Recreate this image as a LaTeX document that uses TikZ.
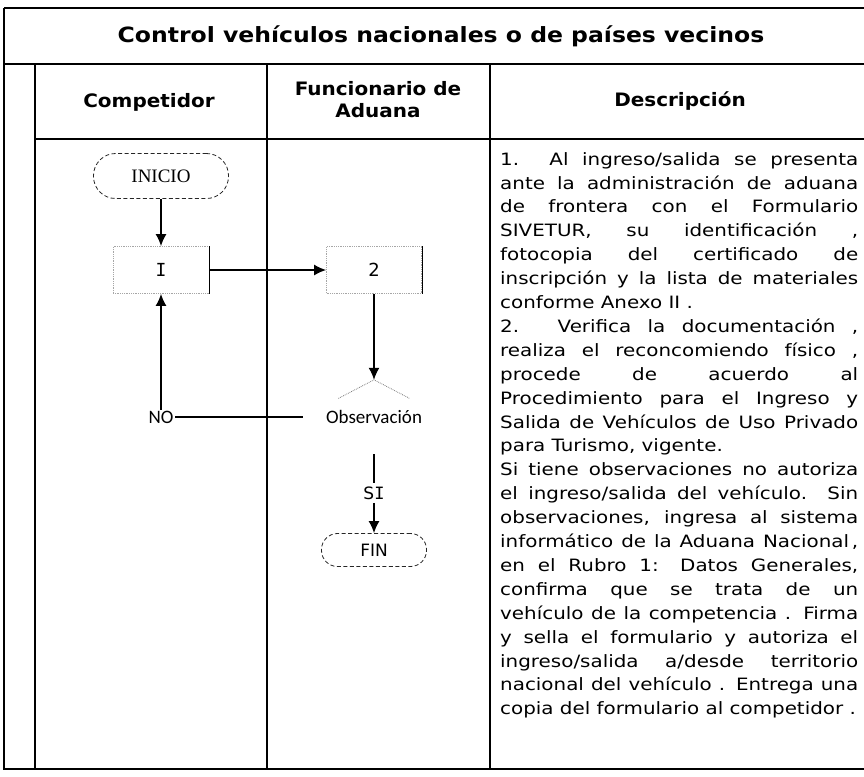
\documentclass[tikz,border=0pt]{standalone}
\usepackage{fontspec}
\setmainfont{DejaVu Sans}
\newfontfamily\descfont[FakeStretch=1.17]{DejaVu Sans}
\newfontfamily\headfont[FakeStretch=1.08]{DejaVu Sans}
\newfontfamily\titlefont[FakeStretch=1.12]{DejaVu Sans}
\newfontfamily\serifface{Liberation Serif}
\newfontfamily\narrowface{Carlito}
\newfontfamily\monoface{DejaVu Sans Mono}
\setlength{\parindent}{0pt}
\tolerance=10000
\hyphenpenalty=10000
\hbadness=10000
\usetikzlibrary{arrows.meta,shapes.geometric,calc}

\begin{document}
\begin{tikzpicture}[x=1pt,y=-1pt,>={Latex[length=12pt,width=11pt]},
  rule/.style={line width=1.6pt},
  flow/.style={line width=1.5pt},
  headcell/.style={font=\headfont\bfseries\fontsize{18.5}{22}\selectfont,align=center},
  stepbox/.style={draw=gray!70,densely dotted,line width=0.8pt,minimum height=47pt,inner sep=0pt,
    font=\fontsize{18}{20}\selectfont},
  terminal/.style={draw=black!85,dash pattern=on 4pt off 2.5pt,line width=0.8pt,inner sep=0pt}]
  \useasboundingbox (0,0) rectangle (864,776);
  \draw[rule] (4,8) -- (864,8);
  \draw[rule] (4,8) -- (4,769) -- (864,769);
  \draw[rule] (4,64) -- (864,64);
  \draw[rule] (35,64) -- (35,769);
  \draw[rule] (35,139) -- (864,139);
  \draw[rule] (267,64) -- (267,769);
  \draw[rule] (490,64) -- (490,769);

  \node[font=\titlefont\bfseries\fontsize{21}{24}\selectfont] (titulo) at (441,36)
    {Control vehículos nacionales o de países vecinos};
  \node[headcell] (competidor) at (149,102) {Competidor};
  \node[headcell] (funcionario) at (378,100) {Funcionario de\\Aduana};
  \node[headcell] (descripcion) at (680,101) {Descripción};

  \node[terminal,minimum width=135pt,minimum height=45pt,rounded corners=22pt,
    font=\serifface\fontsize{19}{20}\selectfont] (inicio) at (161,176) {INICIO};
  \node[stepbox,minimum width=96pt,font=\monoface\fontsize{18}{20}\selectfont] (uno) at (161,270) {I};
  \node[stepbox,minimum width=95pt] (dos) at (374,270) {2};
  \node[diamond,aspect=1.9,minimum width=142pt,minimum height=74pt,inner sep=0pt,
    font=\narrowface\fontsize{19}{20}\selectfont] (obs) at (374,417) {Observación};
  \node[font=\narrowface\fontsize{19}{20}\selectfont,inner sep=1pt] (no) at (161,417) {NO};
  \node[font=\fontsize{17}{20}\selectfont] (si) at (374,493) {S{\monoface I}};
  \node[terminal,minimum width=105pt,minimum height=33pt,rounded corners=16pt,
    font=\fontsize{17}{20}\selectfont] (fin) at (374,550) {FIN};

  \draw[densely dotted,gray,line width=0.8pt] ($(obs.north)!0.5!(obs.west)$) -- (obs.north)
    -- ($(obs.north)!0.5!(obs.east)$);
  \draw[line width=0.8pt] (uno.north east) -- (uno.south east);
  \draw[line width=0.8pt] (dos.north east) -- (dos.south east);

  \draw[flow,->] (inicio) -- (uno);
  \draw[flow,->] (uno) -- (dos);
  \draw[flow,->] (dos) -- (obs);
  \draw[flow] (obs) -- (no);
  \draw[flow,->] (no) -- (uno);
  \draw[flow] (obs) -- (si);
  \draw[flow,->] (si) -- (fin);

  \node[anchor=north west,inner sep=0pt,text width=358pt,align=justify,
    font=\descfont\fontsize{17}{23.9}\selectfont]
    (texto) at (500,152) {1. Al ingreso/salida se presenta\linebreak
    ante la administración de aduana\linebreak
    de frontera con el Formulario\linebreak
    SIVETUR, su identificación ,\linebreak
    fotocopia del certificado de\linebreak
    inscripción y la lista de materiales\linebreak
    conforme Anexo II .\par
    2. Verifica la documentación ,\linebreak
    realiza el reconcomiendo físico ,\linebreak
    procede de acuerdo al\linebreak
    Procedimiento para el Ingreso y\linebreak
    Salida de Vehículos de Uso Privado\linebreak
    para Turismo, vigente.\par
    Si tiene observaciones no autoriza\linebreak
    el ingreso/salida del vehículo. Sin\linebreak
    observaciones, ingresa al sistema\linebreak
    informático de la Aduana Nacional\,,\linebreak
    en el Rubro 1: Datos Generales,\linebreak
    confirma que se trata de un\linebreak
    vehículo de la competencia . Firma\linebreak
    y sella el formulario y autoriza el\linebreak
    ingreso/salida a/desde territorio\linebreak
    nacional del vehículo . Entrega una\linebreak
    copia del formulario al competidor .};
\end{tikzpicture}
\end{document}
